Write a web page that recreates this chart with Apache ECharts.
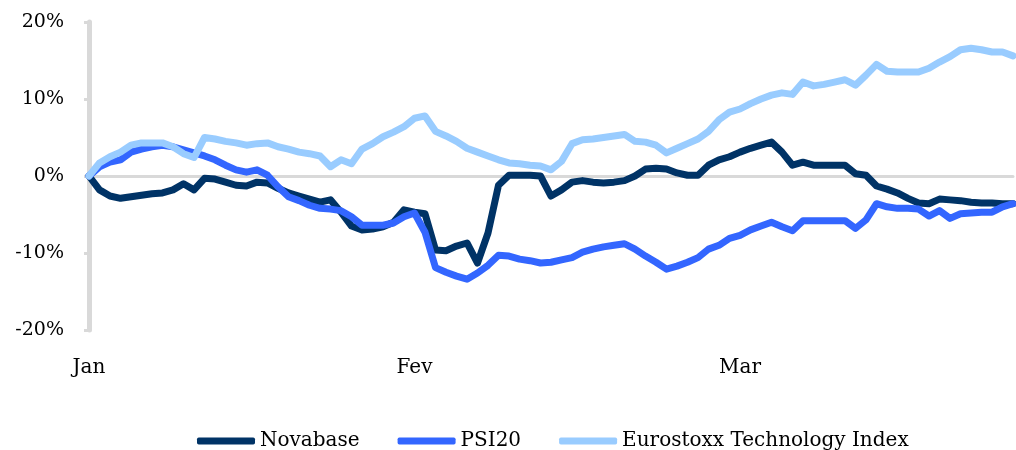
<!DOCTYPE html>
<html>
<head>
<meta charset="utf-8">
<script src="https://cdn.jsdelivr.net/npm/echarts@6/dist/echarts.min.js"></script>
<style>
  html, body { margin: 0; padding: 0; background: #fff; }
  #chart { width: 1016px; height: 450px; }
</style>
</head>
<body>
<div id="chart"></div>
<script>
// month labels and the day index where each one sits
var monthNames = ['Jan', 'Fev', 'Mar'];
var monthIdx = [0, 31, 62];

// daily performance since start (%)
var novabase = [0, -1.8, -2.6, -2.9, -2.7, -2.5, -2.3, -2.2, -1.8, -1.0,
  -1.8, -0.3, -0.4, -0.8, -1.2, -1.3, -0.8, -0.9, -1.6, -2.2,
  -2.6, -3.0, -3.4, -3.1, -4.7, -6.5, -7.0, -6.9, -6.6, -6.0,
  -4.4, -4.7, -4.9, -9.6, -9.7, -9.1, -8.7, -11.3, -7.4, -1.2,
  0.1, 0.1, 0.1, 0, -2.6, -1.8, -0.8, -0.6, -0.8, -0.9,
  -0.8, -0.6, 0, 0.9, 1.0, 0.9, 0.4, 0.1, 0.1, 1.4,
  2.1, 2.5, 3.1, 3.6, 4.0, 4.4, 3.1, 1.4, 1.8, 1.4,
  1.4, 1.4, 1.4, 0.3, 0.1, -1.3, -1.7, -2.2, -2.9, -3.5,
  -3.6, -3.0, -3.1, -3.2, -3.4, -3.5, -3.5, -3.6, -3.6];

var psi20 = [0, 1.2, 1.8, 2.1, 3.1, 3.5, 3.8, 4.0, 3.8, 3.4,
  3.0, 2.6, 2.1, 1.4, 0.8, 0.5, 0.8, 0.1, -1.4, -2.7,
  -3.2, -3.8, -4.2, -4.3, -4.5, -5.3, -6.4, -6.4, -6.4, -6.1,
  -5.3, -4.8, -7.3, -11.9, -12.5, -13.0, -13.4, -12.6, -11.6, -10.3,
  -10.4, -10.8, -11.0, -11.3, -11.2, -10.9, -10.6, -9.9, -9.5, -9.2,
  -9.0, -8.8, -9.5, -10.4, -11.2, -12.1, -11.7, -11.2, -10.6, -9.5,
  -9.0, -8.1, -7.7, -7.0, -6.5, -6.0, -6.6, -7.1, -5.8, -5.8,
  -5.8, -5.8, -5.8, -6.8, -5.7, -3.6, -4.0, -4.2, -4.2, -4.3,
  -5.2, -4.5, -5.5, -4.9, -4.8, -4.7, -4.7, -4.0, -3.6];

var eurostoxx = [0, 1.7, 2.5, 3.1, 4.0, 4.3, 4.3, 4.3, 3.8, 2.9,
  2.4, 5.0, 4.8, 4.5, 4.3, 4.0, 4.2, 4.3, 3.8, 3.5,
  3.1, 2.9, 2.6, 1.2, 2.1, 1.6, 3.5, 4.2, 5.1, 5.7,
  6.4, 7.5, 7.8, 5.8, 5.2, 4.5, 3.6, 3.1, 2.6, 2.1,
  1.7, 1.6, 1.4, 1.3, 0.8, 1.9, 4.2, 4.7, 4.8, 5.0,
  5.2, 5.4, 4.5, 4.4, 4.0, 3.0, 3.6, 4.2, 4.8, 5.8,
  7.3, 8.3, 8.7, 9.4, 10.0, 10.5, 10.8, 10.6, 12.2, 11.7,
  11.9, 12.2, 12.5, 11.8, 13.1, 14.5, 13.6, 13.5, 13.5, 13.5,
  14.0, 14.8, 15.5, 16.4, 16.6, 16.4, 16.1, 16.1, 15.6];

var days = [];
for (var i = 0; i < novabase.length; i++) {
  var m = monthIdx.indexOf(i);
  days.push(m >= 0 ? monthNames[m] : String(i));
}

var font = 'DejaVu Serif';
var gray = '#d9d9d9';

function lineSeries(name, data, color) {
  return {
    name: name,
    type: 'line',
    xAxisIndex: 0,
    data: data,
    symbol: 'none',
    lineStyle: { color: color, width: 7, cap: 'round', join: 'round' },
    itemStyle: { color: color }
  };
}

var chart = echarts.init(document.getElementById('chart'));
chart.setOption({
  animation: false,
  textStyle: { fontFamily: font },
  grid: { left: 89, right: 1, top: 22, bottom: 120 },
  legend: {
    top: 431,
    left: 197,
    padding: 0,
    icon: 'roundRect',
    itemWidth: 58,
    itemHeight: 7,
    itemGap: 38,
    textStyle: { fontFamily: font, fontSize: 20, color: '#000' },
    data: ['Novabase', 'PSI20', 'Eurostoxx Technology Index']
  },
  xAxis: [{
    type: 'category',
    data: days,
    boundaryGap: false,
    axisLine: { onZero: false, show: false },
    axisTick: { show: false },
    axisLabel: {
      interval: 0,
      margin: 28,
      color: '#000',
      fontFamily: font,
      fontSize: 20,
      formatter: function (v) { return monthNames.indexOf(v) >= 0 ? v : ''; }
    },
    splitLine: { show: false }
  }, {
    // zero line
    type: 'category',
    data: days,
    boundaryGap: false,
    position: 'bottom',
    axisLine: { onZero: true, lineStyle: { color: gray, width: 3 } },
    axisTick: { show: false },
    axisLabel: { show: false },
    splitLine: { show: false }
  }],
  yAxis: {
    type: 'value',
    min: -20,
    max: 20,
    interval: 10,
    axisLine: { show: true, lineStyle: { color: gray, width: 5 } },
    axisTick: { show: true, length: 5, lineStyle: { color: gray, width: 3 } },
    axisLabel: {
      margin: 25,
      color: '#000',
      fontFamily: font,
      fontSize: 19,
      formatter: '{value}%'
    },
    splitLine: { show: false }
  },
  series: [
    lineSeries('Novabase', novabase, '#003366'),
    lineSeries('PSI20', psi20, '#3366ff'),
    lineSeries('Eurostoxx Technology Index', eurostoxx, '#99ccff')
  ]
});
</script>
</body>
</html>
